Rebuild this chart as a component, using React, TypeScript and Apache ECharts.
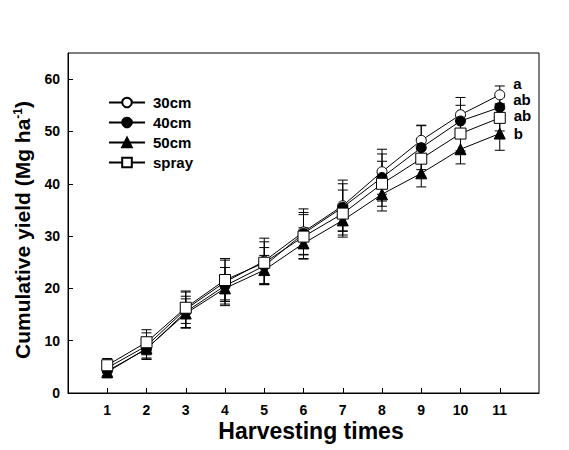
import React, { useEffect, useRef } from "react";
import * as echarts from "echarts";

const harvests = [1, 2, 3, 4, 5, 6, 7, 8, 9, 10, 11];
const seriesNames = ["30cm", "40cm", "50cm", "spray"];
const yield30 = [4.8, 9.0, 16.0, 21.2, 25.2, 30.8, 35.8, 42.3, 48.3, 53.2, 57.0];
const yield40 = [4.2, 8.4, 15.5, 20.5, 24.3, 30.5, 35.5, 41.2, 46.9, 52.0, 54.6];
const yield50 = [4.0, 8.5, 15.2, 20.0, 23.5, 28.6, 33.0, 38.0, 42.0, 46.6, 49.6];
const yieldSpray = [5.3, 9.7, 16.3, 21.6, 24.9, 29.9, 34.3, 40.0, 44.8, 49.6, 52.6];
const err30 = [1.5, 2.5, 3.5, 4.5, 4.4, 4.4, 4.9, 4.3, 2.9, 3.3, 1.7];
const err40 = [1.0, 2.0, 3.0, 3.5, 3.5, 4.0, 4.5, 4.5, 4.2, 3.0, 2.0];
const err50 = [1.1, 1.8, 2.8, 2.5, 2.8, 3.0, 2.8, 3.2, 2.6, 2.8, 3.2];
const errSpray = [1.3, 2.4, 3.0, 3.8, 4.0, 4.2, 4.5, 4.3, 3.5, 3.3, 2.5];
const letters = ["a", "ab", "b", "ab"];
const yTicks = [0, 10, 20, 30, 40, 50, 60];

const FONT = 'Arial, "Liberation Sans", sans-serif';

export default function App() {
  const ref = useRef<HTMLDivElement>(null);
  useEffect(() => {
    document.body.style.margin = "0";
    if (!ref.current) return;
    const chart = echarts.init(ref.current, null, { renderer: "svg" });
    const values = [yield30, yield40, yield50, yieldSpray];
    const errors = [err30, err40, err50, errSpray];
    const symbols = ["circle", "circle", "triangle", "rect"];
    const fills = ["#fff", "#000", "#000", "#fff"];
    const sizes = [10, 10, 11, 11];
    const labelDy = [-11, -8, 0, -2];

    const lineSeries = seriesNames.map((name, si) => ({
      name,
      type: "line",
      z: 3,
      symbol: symbols[si],
      symbolSize: sizes[si],
      lineStyle: { color: "#000", width: 1 },
      itemStyle: { color: fills[si], borderColor: "#000", borderWidth: 1, opacity: 1 },
      data: values[si].map((v, i) =>
        i === values[si].length - 1
          ? {
              value: [harvests[i], v],
              label: {
                show: true,
                position: "right",
                distance: 8,
                offset: [0, labelDy[si]],
                formatter: letters[si],
                color: "#000",
                fontFamily: FONT,
                fontWeight: "bold",
                fontSize: 15,
                lineHeight: 13,
              },
            }
          : [harvests[i], v]
      ),
    }));

    const errSeries = seriesNames.map((name, si) => ({
      name: name + " err",
      type: "custom",
      z: 1,
      encode: { x: 0, y: 1 },
      data: values[si].map((v, i) => [harvests[i], v, errors[si][i]]),
      renderItem: (params: any, api: any) => {
        const x = api.value(0);
        const y = api.value(1);
        const e = api.value(2);
        const top = api.coord([x, y + e]);
        const bot = api.coord([x, y - e]);
        const w = 5;
        const st = { stroke: "#000", lineWidth: 1 };
        return {
          type: "group",
          children: [
            { type: "line", shape: { x1: top[0], y1: top[1], x2: bot[0], y2: bot[1] }, style: st },
            { type: "line", shape: { x1: top[0] - w, y1: top[1], x2: top[0] + w, y2: top[1] }, style: st },
            { type: "line", shape: { x1: bot[0] - w, y1: bot[1], x2: bot[0] + w, y2: bot[1] }, style: st },
          ],
        };
      },
    }));

    chart.setOption({
      animation: false,
      backgroundColor: "#fff",
      grid: {
        left: 68,
        top: 53,
        right: 30,
        bottom: 57,
        show: true,
        borderColor: "#000",
        borderWidth: 1,
        backgroundColor: "transparent",
      },
      legend: {
        data: seriesNames,
        orient: "vertical",
        left: 103,
        top: 90,
        itemWidth: 36,
        itemHeight: 12,
        itemGap: 5,
        textStyle: {
          fontFamily: FONT,
          fontWeight: "bold",
          fontSize: 15,
          lineHeight: 13,
          color: "#000",
          padding: [0, 0, 0, 3],
        },
      },
      xAxis: {
        type: "value",
        min: 0,
        max: 12,
        interval: 1,
        splitLine: { show: false },
        axisLine: { lineStyle: { color: "#000", width: 1 } },
        axisTick: { inside: true, length: 5, customValues: harvests, lineStyle: { color: "#000" } },
        axisLabel: {
          customValues: harvests,
          margin: 10,
          color: "#000",
          fontFamily: FONT,
          fontWeight: "bold",
          fontSize: 14,
        },
      },
      yAxis: {
        type: "value",
        min: 0,
        max: 65,
        interval: 10,
        splitLine: { show: false },
        axisLine: { show: true, lineStyle: { color: "#000", width: 1 } },
        axisTick: { show: true, inside: true, length: 5, customValues: yTicks, lineStyle: { color: "#000" } },
        axisLabel: {
          customValues: yTicks,
          margin: 8,
          color: "#000",
          fontFamily: FONT,
          fontWeight: "bold",
          fontSize: 14,
        },
      },
      graphic: [
        {
          type: "text",
          x: 22,
          y: 230,
          rotation: Math.PI / 2,
          style: {
            text: "Cumulative yield (Mg ha{sup|-1})",
            fontFamily: FONT,
            fontWeight: "bold",
            fontSize: 21,
            fill: "#000",
            align: "center",
            verticalAlign: "middle",
            rich: {
              sup: { fontSize: 12, fontWeight: "bold", fontFamily: FONT, verticalAlign: "top", padding: [0, 0, 8, 0] },
            },
          },
        },
        {
          type: "text",
          x: 311,
          y: 431,
          style: {
            text: "Harvesting times",
            fontFamily: FONT,
            fontWeight: "bold",
            fontSize: 23,
            fill: "#000",
            align: "center",
            verticalAlign: "middle",
          },
        },
      ],
      series: [...errSeries, ...lineSeries],
    });
    return () => chart.dispose();
  }, []);
  return <div ref={ref} style={{ width: 569, height: 450 }} />;
}
